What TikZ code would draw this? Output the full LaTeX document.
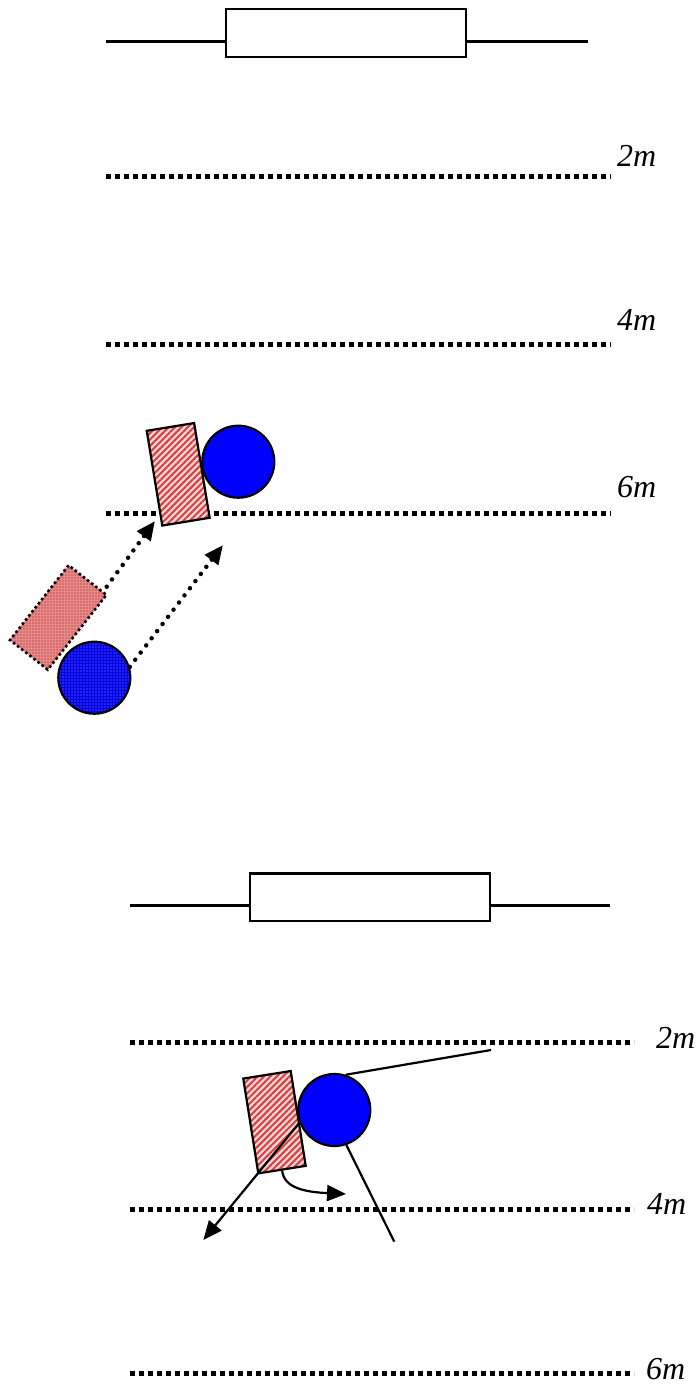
\documentclass[tikz,border=0pt]{standalone}
\usepackage{fontspec}
\setmainfont{Liberation Serif}
\usetikzlibrary{arrows.meta,patterns,patterns.meta}
\begin{document}
\begin{tikzpicture}[x=1pt,y=-1pt,
  goalbox/.style={draw,line width=2.2pt,minimum width=240pt,minimum height=47.5pt,inner sep=0pt,fill=white},
  goalline/.style={line width=2.6pt},
  yardline/.style={line width=5pt,dash pattern=on 5pt off 4pt},
  dist/.style={font=\fontsize{32}{34}\selectfont\itshape,anchor=base west,inner sep=0pt},
  ball/.style={circle,draw,line width=2.2pt,fill=blue,minimum size=72pt,inner sep=0pt},
  ghostball/.style={circle,draw,line width=2.2pt,minimum size=72pt,inner sep=0pt,
     preaction={fill=blue!90!black},pattern={Dots[distance=3pt,radius=0.6pt]},pattern color=white!60!blue},
  player/.style={draw,line width=2.2pt,minimum width=48pt,minimum height=96pt,inner sep=0pt,
     preaction={fill={rgb,255:red,245;green,215;blue,215}},pattern={Lines[angle=45,distance=4.5pt,line width=2pt]},pattern color={rgb,255:red,220;green,60;blue,60}},
  ghostplayer/.style={draw,line width=2.6pt,dash pattern=on 2.6pt off 2.6pt,minimum width=95pt,minimum height=48pt,inner sep=0pt,
     preaction={fill={rgb,255:red,228;green,140;blue,140}},pattern={Dots[distance=3pt,radius=0.7pt]},pattern color=red!75!black},
  moveline/.style={line width=4.5pt,dash pattern=on 0pt off 9pt,line cap=round,-{Triangle[length=19pt,width=16pt]}},
  thin/.style={line width=2.2pt},
  tharrow/.style={line width=2.2pt,-{Triangle[length=19pt,width=16pt]}}]
\useasboundingbox (0,0) rectangle (699,1385);

% ---------- top diagram ----------
\node[goalbox] (goalA) at (346.2,32.9) {};
\coordinate (gAl) at (106,41.7);
\coordinate (gAr) at (587.5,41.7);
\draw[goalline] (gAl) -- (gAl -| goalA.west);
\draw[goalline] (gAr -| goalA.east) -- (gAr);

\coordinate (a2s) at (106,176); \coordinate (a2e) at (611,176);
\coordinate (a4s) at (106,344.3); \coordinate (a4e) at (611,344.3);
\coordinate (a6s) at (106,513); \coordinate (a6e) at (611,513);
\draw[yardline] (a2s) -- (a2e);
\draw[yardline] (a4s) -- (a4e);
\draw[yardline] (a6s) -- (a6e);
\node[dist] (t2A) at (617,166) {2m};
\node[dist] (t4A) at (617,330) {4m};
\node[dist] (t6A) at (617,497) {6m};

\node[ghostplayer,rotate=51.9] (gp) at (58.2,617.5) {};
\node[ghostball] (gb) at (94.3,677.7) {};
\node[player,rotate=9.3] (pA) at (178.2,474.3) {};
\node[ball] (bA) at (238.3,461.7) {};

\coordinate (m1s) at (106.7,586.7);
\coordinate (m1e) at (155,521);
\coordinate (m2e) at (223,545);
\draw[moveline] (m1s) -- (m1e);
\draw[moveline] (gb.17) -- (m2e);

% ---------- bottom diagram ----------
\node[goalbox] (goalB) at (370.3,897.2) {};
\coordinate (gBl) at (129.5,905.7);
\coordinate (gBr) at (610,905.7);
\draw[goalline] (gBl) -- (gBl -| goalB.west);
\draw[goalline] (gBr -| goalB.east) -- (gBr);

\coordinate (b2s) at (130,1042); \coordinate (b2e) at (634,1042);
\coordinate (b4s) at (130,1209); \coordinate (b4e) at (634,1209);
\coordinate (b6s) at (130,1373); \coordinate (b6e) at (634,1373);
\draw[yardline] (b2s) -- (b2e);
\draw[yardline] (b4s) -- (b4e);
\draw[yardline] (b6s) -- (b6e);
\node[dist] (t2B) at (656,1048) {2m};
\node[dist] (t4B) at (647,1214) {4m};
\node[dist] (t6B) at (646,1379) {6m};

\node[player,rotate=9] (pB) at (274.5,1122.2) {};
\node[ball] (bB) at (334.3,1110) {};

\coordinate (l1e) at (491,1050);
\coordinate (l2e) at (394.3,1241.7);
\coordinate (kick) at (203.3,1240);
\coordinate (turn) at (346,1194);
\draw[thin] (bB.72) -- (l1e);
\draw[thin] (bB.-71) -- (l2e);
\draw[tharrow] (bB.200) -- (kick);
\draw[tharrow] (pB.south) .. controls (284,1188) and (305,1192) .. (turn);
\end{tikzpicture}
\end{document}
